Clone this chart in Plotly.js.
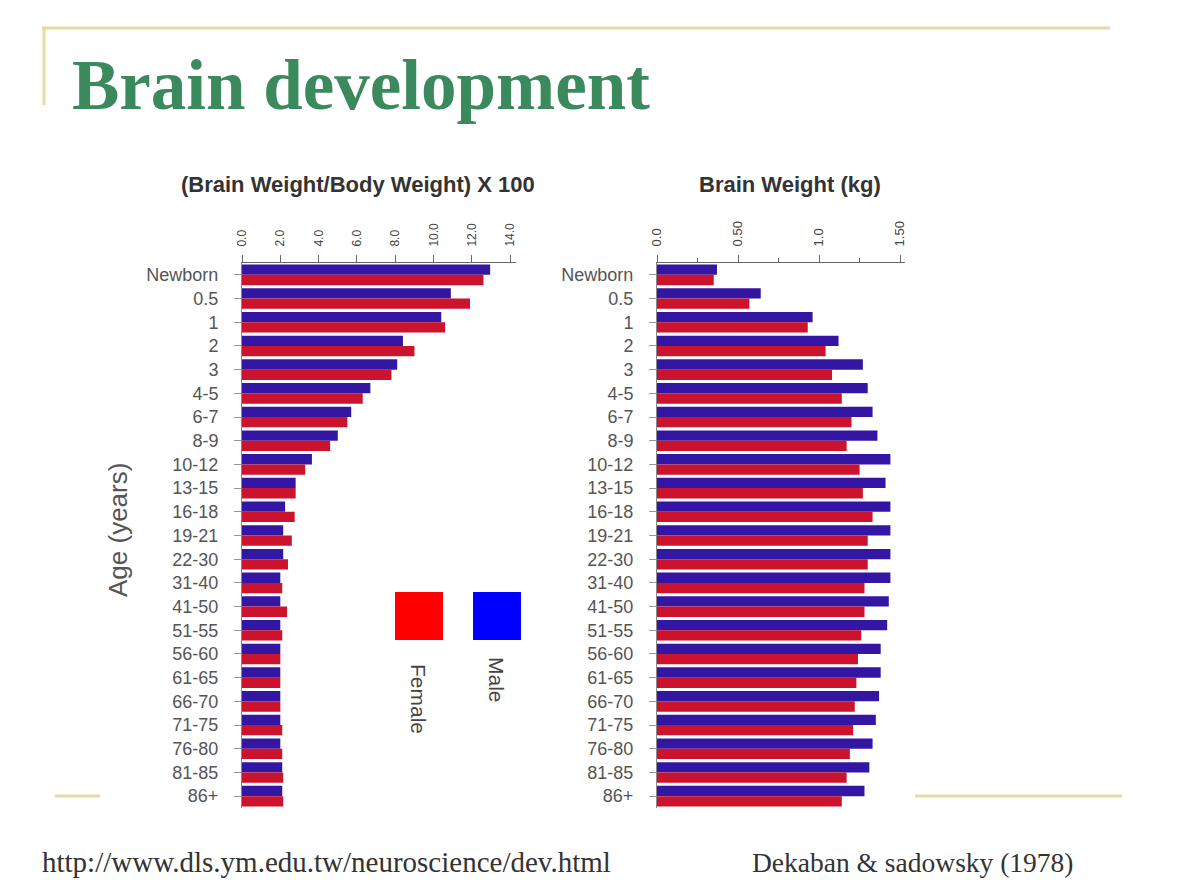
<!DOCTYPE html>
<html>
<head>
<meta charset="utf-8">
<script src="https://cdn.plot.ly/plotly-3.0.1.min.js"></script>
<style>
html,body{margin:0;padding:0;background:#fff;}
#chart{width:1180px;height:885px;}
</style>
</head>
<body>
<div id="chart"></div>
<script>
// ---- data ----
const ageGroups = ["Newborn","0.5","1","2","3","4-5","6-7","8-9","10-12","13-15","16-18","19-21","22-30","31-40","41-50","51-55","56-60","61-65","66-70","71-75","76-80","81-85","86+"];
const ratioMale   = [12.95,10.9,10.4,8.4,8.1,6.7,5.7,5.0,3.65,2.8,2.25,2.15,2.15,2.0,2.0,2.0,2.0,2.0,2.0,2.0,2.0,2.1,2.1];
const ratioFemale = [12.6,11.9,10.6,9.0,7.8,6.3,5.5,4.6,3.3,2.8,2.75,2.6,2.4,2.1,2.35,2.1,2.0,2.0,2.0,2.1,2.1,2.15,2.15];
const weightMale   = [0.37,0.64,0.96,1.12,1.27,1.30,1.33,1.36,1.44,1.41,1.44,1.44,1.44,1.44,1.43,1.42,1.38,1.38,1.37,1.35,1.33,1.31,1.28];
const weightFemale = [0.35,0.57,0.93,1.04,1.08,1.14,1.20,1.17,1.25,1.27,1.33,1.30,1.30,1.28,1.28,1.26,1.24,1.23,1.22,1.21,1.19,1.17,1.14];
const ratioTicks = [0,2,4,6,8,10,12,14];
const ratioTickText = ["0.0","2.0","4.0","6.0","8.0","10.0","12.0","14.0"];
const weightTicks = [0,0.5,1,1.5];
const weightTickText = ["0.0","0.50","1.0","1.50"];
const seriesNames = ["Male","Female"];

// ---- helpers ----
const W = 1180, H = 885;
const X = p => p / W;
const Y = p => 1 - p / H;

const BLUE = "#3416a4", RED = "#cc132d";
const sans = "Liberation Sans, Arial, sans-serif";
const serif = "Liberation Serif, Times New Roman, serif";

const traces = [
  {type:"bar", orientation:"h", name:seriesNames[0], y:ageGroups, x:ratioMale, marker:{color:BLUE}, xaxis:"x", yaxis:"y"},
  {type:"bar", orientation:"h", name:seriesNames[1], y:ageGroups, x:ratioFemale, marker:{color:RED}, xaxis:"x", yaxis:"y"},
  {type:"bar", orientation:"h", name:seriesNames[0], y:ageGroups, x:weightMale, marker:{color:BLUE}, xaxis:"x2", yaxis:"y2"},
  {type:"bar", orientation:"h", name:seriesNames[1], y:ageGroups, x:weightFemale, marker:{color:RED}, xaxis:"x2", yaxis:"y2"}
];

const yBase = {
  type:"category", categoryorder:"array", categoryarray:ageGroups,
  autorange:"reversed", domain:[Y(808), Y(263)],
  showline:true, linecolor:"#888", linewidth:1,
  ticks:"outside", ticklen:7, tickcolor:"#999",
  ticklabelstandoff:12,
  tickfont:{family:sans, size:18, color:"#555"},
  showgrid:false, zeroline:false
};
const xBase = {
  side:"top", showline:true, linecolor:"#666", linewidth:1,
  ticks:"outside", ticklen:7, tickcolor:"#666",
  ticklabelstandoff:6,
  tickangle:-90, tickfont:{family:sans, size:12, color:"#444"},
  showgrid:false, zeroline:false, fixedrange:true
};

const layout = {
  width:W, height:H,
  margin:{l:0,r:0,t:0,b:0},
  paper_bgcolor:"#fff", plot_bgcolor:"rgba(0,0,0,0)",
  showlegend:false,
  barmode:"group", bargap:0.13, bargroupgap:0,
  xaxis:Object.assign({}, xBase, {domain:[X(242), X(516)], range:[0,14.3], tickvals:ratioTicks, ticktext:ratioTickText, anchor:"y"}),
  yaxis:Object.assign({}, yBase, {anchor:"x"}),
  xaxis2:Object.assign({}, xBase, {domain:[X(657), X(905)], range:[0,1.53], tickvals:weightTicks, ticktext:weightTickText, anchor:"y2",
    tickfont:{family:sans, size:13, color:"#444"},
    minor:{tickvals:[0.25,0.75,1.25], ticks:"outside", ticklen:4, tickcolor:"#666"}}),
  yaxis2:Object.assign({}, yBase, {anchor:"x2"}),
  shapes:[
    {type:"line", xref:"paper", yref:"paper", x0:X(42), x1:X(1110), y0:Y(28), y1:Y(28), line:{color:"#e6dba6", width:3}},
    {type:"line", xref:"paper", yref:"paper", x0:X(44), x1:X(44), y0:Y(27), y1:Y(105), line:{color:"#e6dba6", width:3}},
    {type:"line", xref:"paper", yref:"paper", x0:X(55), x1:X(100), y0:Y(796), y1:Y(796), line:{color:"#e6dba6", width:3}},
    {type:"line", xref:"paper", yref:"paper", x0:X(915), x1:X(1122), y0:Y(796), y1:Y(796), line:{color:"#e6dba6", width:3}},
    {type:"rect", xref:"paper", yref:"paper", x0:X(395), x1:X(443), y0:Y(640), y1:Y(592), fillcolor:"#ff0000", line:{width:0}},
    {type:"rect", xref:"paper", yref:"paper", x0:X(473), x1:X(521), y0:Y(640), y1:Y(592), fillcolor:"#0000ff", line:{width:0}}
  ],
  annotations:[
    {xref:"paper", yref:"paper", x:X(70), y:Y(85), xanchor:"left", yanchor:"middle", showarrow:false,
     text:"<b>Brain development</b>", font:{family:serif, size:71, color:"#3a8a5e"}},
    {xref:"paper", yref:"paper", x:X(358), y:Y(185), xanchor:"center", yanchor:"middle", showarrow:false,
     text:"<b>(Brain Weight/Body Weight) X 100</b>", font:{family:sans, size:22, color:"#333"}},
    {xref:"paper", yref:"paper", x:X(790), y:Y(185), xanchor:"center", yanchor:"middle", showarrow:false,
     text:"<b>Brain Weight (kg)</b>", font:{family:sans, size:22, color:"#333"}},
    {xref:"paper", yref:"paper", x:X(118), y:Y(530), xanchor:"center", yanchor:"middle", showarrow:false, textangle:-90,
     text:"Age (years)", font:{family:sans, size:26, color:"#555"}},
    {xref:"paper", yref:"paper", x:X(419), y:Y(699), xanchor:"center", yanchor:"middle", showarrow:false, textangle:90,
     text:seriesNames[1], font:{family:sans, size:21, color:"#444"}},
    {xref:"paper", yref:"paper", x:X(497), y:Y(680), xanchor:"center", yanchor:"middle", showarrow:false, textangle:90,
     text:seriesNames[0], font:{family:sans, size:21, color:"#444"}},
    {xref:"paper", yref:"paper", x:X(40), y:Y(862), xanchor:"left", yanchor:"middle", showarrow:false,
     text:"http://www.dls.ym.edu.tw/neuroscience/dev.html", font:{family:serif, size:29, color:"#333"}},
    {xref:"paper", yref:"paper", x:X(750), y:Y(862), xanchor:"left", yanchor:"middle", showarrow:false,
     text:"Dekaban &amp; sadowsky (1978)", font:{family:serif, size:27.5, color:"#333"}}
  ]
};

Plotly.newPlot("chart", traces, layout, {displayModeBar:false, staticPlot:true});
</script>
</body>
</html>
